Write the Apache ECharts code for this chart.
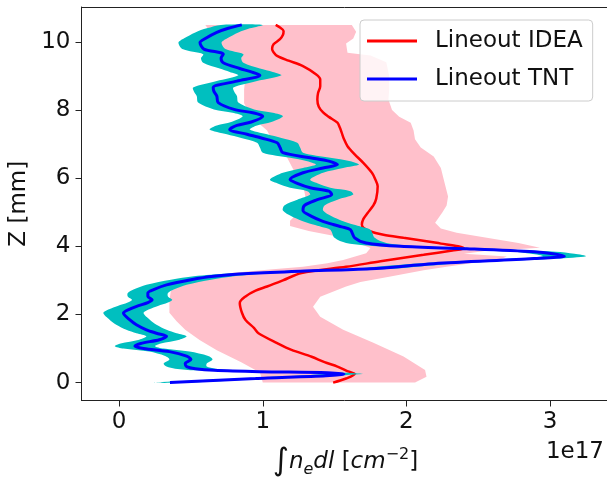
<!DOCTYPE html>
<html><head><meta charset="utf-8">
<script src="https://cdn.jsdelivr.net/npm/echarts@6/dist/echarts.min.js"></script>
<style>html,body{margin:0;padding:0;background:#fff}#c{width:607px;height:478px}</style>
</head><body><div id="c"></div>
<script>
// IDEA lineout (red) : z [mm] and integrated density [1e17 cm^-2]
const ideaZ = [0.00,0.12,0.25,0.32,0.47,0.60,0.76,0.96,1.16,1.45,1.60,1.84,2.05,2.34,2.53,2.70,2.82,3.00,3.22,3.40,3.56,3.75,3.88,3.94,4.00,4.08,4.15,4.25,4.34,4.45,4.55,4.64,4.80,4.98,5.20,5.40,5.76,6.00,6.16,6.45,6.70,6.94,7.15,7.33,7.50,7.63,7.80,7.93,8.10,8.31,8.50,8.70,8.90,9.05,9.29,9.45,9.59,9.70,9.79,9.93,10.08,10.20,10.32,10.42,10.50];
const ideaX = [1.49,1.58,1.64,1.60,1.52,1.43,1.34,1.20,1.10,0.97,0.94,0.88,0.855,0.84,0.88,0.95,1.03,1.14,1.27,1.58,1.82,2.12,2.32,2.40,2.36,2.24,2.14,1.98,1.84,1.74,1.70,1.69,1.70,1.73,1.77,1.79,1.80,1.78,1.76,1.70,1.64,1.59,1.565,1.55,1.535,1.52,1.46,1.42,1.39,1.38,1.385,1.40,1.40,1.37,1.28,1.18,1.10,1.075,1.065,1.075,1.12,1.14,1.145,1.12,1.09];

// IDEA uncertainty band (pink): left and right edges
const pinkLoZ = [0.00,0.30,0.60,0.95,1.25,1.55,1.80,2.05,2.40,2.70,2.85,3.02,3.12,3.22,3.32,3.40,3.50,3.60,3.80,3.95,4.10,4.30,4.45,4.60,4.75,5.00,5.40,5.80,6.20,6.60,7.00,7.40,7.80,8.20,8.60,9.00,9.40,9.80,10.20,10.50];
const pinkLo  = [1.00,0.98,0.85,0.68,0.56,0.46,0.40,0.35,0.35,0.36,0.42,0.56,0.66,0.78,1.05,1.28,1.45,1.56,1.72,1.75,1.66,1.50,1.32,1.19,1.19,1.25,1.30,1.28,1.22,1.17,1.08,1.03,0.92,0.87,0.87,0.88,0.82,0.72,0.65,0.60];
const pinkHiZ = [0.00,0.17,0.37,0.77,1.17,1.55,1.93,2.23,2.52,2.82,2.95,3.11,3.30,3.40,3.50,3.60,3.70,3.78,3.86,3.96,4.10,4.25,4.40,4.52,4.69,4.99,5.20,5.46,5.96,6.30,6.64,6.90,7.14,7.40,7.63,7.80,8.00,8.31,8.60,9.00,9.40,9.60,9.68,9.95,10.10,10.30,10.50];
const pinkHi  = [2.06,2.14,2.13,1.98,1.77,1.56,1.40,1.35,1.40,1.58,1.68,1.88,2.12,2.28,2.45,2.64,2.70,2.40,2.55,2.93,2.78,2.56,2.35,2.24,2.20,2.25,2.28,2.29,2.26,2.24,2.19,2.10,2.06,2.05,2.03,1.95,1.90,1.875,1.88,1.88,1.86,1.75,1.59,1.58,1.63,1.65,1.62];

// TNT lineout (blue) and its uncertainty half-width (cyan)
const tntZ = [0.00,0.12,0.25,0.29,0.32,0.36,0.41,0.47,0.56,0.68,
              0.78,0.91,1.00,1.07,1.15,1.26,1.36,1.45,1.55,1.70,
              1.84,2.04,2.15,2.25,2.35,2.43,2.53,2.63,2.73,2.87,
              3.02,3.12,3.20,3.27,3.34,3.49,3.64,3.71,3.78,3.84,
              3.93,4.00,4.10,4.25,4.49,4.57,4.64,4.75,4.88,5.05,
              5.20,5.37,5.52,5.62,5.72,5.85,5.96,6.16,6.30,6.40,
              6.50,6.60,6.75,6.90,7.04,7.18,7.29,7.43,7.55,7.65,
              7.82,7.92,8.02,8.22,8.41,8.55,8.66,8.85,9.02,9.12,
              9.22,9.39,9.52,9.64,9.79,9.98,10.10,10.28,10.40,10.50];
const tntX = [0.354,0.95,1.565,1.45,0.98,0.66,0.53,0.47,0.46,0.50,
              0.47,0.35,0.17,0.11,0.15,0.28,0.33,0.26,0.19,0.12,
              0.075,0.03,0.07,0.13,0.20,0.23,0.20,0.20,0.24,0.33,
              0.50,0.66,0.90,1.26,1.75,2.19,2.89,3.10,3.02,2.89,
              2.42,1.96,1.72,1.64,1.61,1.55,1.49,1.41,1.34,1.28,
              1.29,1.38,1.48,1.46,1.33,1.24,1.19,1.28,1.42,1.52,
              1.46,1.33,1.14,1.12,1.10,0.99,0.89,0.77,0.82,0.92,
              1.00,0.93,0.80,0.69,0.68,0.66,0.655,0.82,0.98,0.92,
              0.84,0.725,0.71,0.725,0.59,0.563,0.60,0.68,0.76,0.854];
const tntErr = [0.12,0.12,0.13,0.13,0.13,0.13,0.14,0.14,0.15,0.15,
                0.15,0.14,0.14,0.14,0.14,0.14,0.14,0.14,0.14,0.14,
                0.14,0.14,0.14,0.14,0.14,0.14,0.14,0.14,0.14,0.14,
                0.14,0.14,0.14,0.14,0.14,0.14,0.15,0.15,0.15,0.15,
                0.15,0.14,0.14,0.14,0.14,0.14,0.14,0.14,0.14,0.14,
                0.14,0.14,0.15,0.15,0.14,0.14,0.14,0.14,0.14,0.15,
                0.15,0.14,0.14,0.14,0.14,0.14,0.14,0.14,0.14,0.14,
                0.14,0.14,0.14,0.14,0.14,0.14,0.14,0.14,0.15,0.15,
                0.14,0.14,0.14,0.14,0.15,0.15,0.15,0.15,0.15,0.145];

const xTicks = [0, 1, 2, 3];
const yTicks = [0, 2, 4, 6, 8, 10];
const offsetLabel = '1e17';

const FONT = 'DejaVu Sans';
const X_MIN = -0.262, X_MAX = 3.414;

function bandSeries(name, loZ, lo, hiZ, hi, color, smooth, zl) {
  return {
    type: 'custom', name: name, silent: true, z: zl, clip: true,
    coordinateSystem: 'cartesian2d',
    data: [[1, 5]],
    renderItem: function (params, api) {
      const pts = [];
      for (let i = 0; i < loZ.length; i++) pts.push(api.coord([lo[i], loZ[i]]));
      for (let i = hiZ.length - 1; i >= 0; i--) pts.push(api.coord([hi[i], hiZ[i]]));
      return { type: 'polygon', shape: { points: pts, smooth: smooth }, style: { fill: color, stroke: null } };
    }
  };
}

const tntLo = tntX.map((v, i) => v - tntErr[i]);
const tntHi = tntX.map((v, i) => v + tntErr[i]);

const chart = echarts.init(document.getElementById('c'), null, { renderer: 'canvas' });
chart.setOption({
  animation: false,
  backgroundColor: '#fff',
  textStyle: { fontFamily: FONT },
  grid: { left: 81.5, top: 7, width: 528, height: 393.5, containLabel: false, outerBoundsMode: 'none', show: false },
  xAxis: [{
    type: 'value', min: X_MIN, max: X_MAX,
    splitLine: { show: false },
    axisLine: { show: true, onZero: false, lineStyle: { color: '#222', width: 1 } },
    axisTick: { show: true, length: 6, lineStyle: { color: '#222' }, customValues: xTicks },
    axisLabel: { color: '#111', fontSize: 23, fontFamily: FONT, margin: 10, customValues: xTicks },
    name: '{int|∫}{it|n}{sub|e}{it|dl}{n| [}{it|cm}{sup|−2}{n|]}',
    nameLocation: 'middle', nameGap: 46,
    nameTextStyle: {
      color: '#111', fontFamily: FONT,
      rich: {
        int: { fontSize: 31, fontFamily: FONT, color: '#111', verticalAlign: 'middle' },
        it: { fontSize: 23, fontStyle: 'italic', fontFamily: FONT, color: '#111', verticalAlign: 'middle' },
        n: { fontSize: 23, fontFamily: FONT, color: '#111', verticalAlign: 'middle' },
        sub: { fontSize: 16, fontStyle: 'italic', fontFamily: FONT, color: '#111', verticalAlign: 'bottom' },
        sup: { fontSize: 16, fontFamily: FONT, color: '#111', verticalAlign: 'top' }
      }
    }
  }, {
    type: 'value', position: 'top', min: X_MIN, max: X_MAX,
    splitLine: { show: false },
    axisLine: { show: true, onZero: false, lineStyle: { color: '#222', width: 1 } },
    axisTick: { show: false }, axisLabel: { show: false }
  }],
  yAxis: {
    type: 'value', min: -0.525, max: 11.025,
    splitLine: { show: false },
    axisLine: { show: true, onZero: false, lineStyle: { color: '#222', width: 1 } },
    axisTick: { show: true, length: 6, lineStyle: { color: '#222' }, customValues: yTicks },
    axisLabel: { color: '#111', fontSize: 23, fontFamily: FONT, margin: 11, customValues: yTicks },
    name: 'Z [mm]', nameLocation: 'middle', nameGap: 48,
    nameTextStyle: { color: '#111', fontSize: 23, fontFamily: FONT }
  },
  legend: {
    data: [{ name: 'Lineout IDEA', icon: 'rect' }, { name: 'Lineout TNT', icon: 'rect' }],
    orient: 'vertical', left: 360, top: 20,
    itemWidth: 50, itemHeight: 3, itemGap: 12,
    padding: [8, 10, 9, 7],
    backgroundColor: 'rgba(255,255,255,0.8)', borderColor: '#cccccc', borderWidth: 1, borderRadius: 4,
    textStyle: { fontSize: 23, fontFamily: FONT, color: '#111', padding: [0, 0, 0, 13], lineHeight: 26 }
  },
  graphic: [{
    type: 'text', right: 3, top: 441,
    style: { text: offsetLabel, font: '23px "DejaVu Sans"', fill: '#111' }
  }],
  series: [
    bandSeries('IDEA band', pinkLoZ, pinkLo, pinkHiZ, pinkHi, '#FFC0CB', 0, 1),
    {
      type: 'line', name: 'Lineout IDEA', z: 2, symbol: 'none', smooth: 0.3,
      color: '#ff0000', lineStyle: { color: '#ff0000', width: 2.5 },
      data: ideaZ.map((z, i) => [ideaX[i], z])
    },
    bandSeries('TNT band', tntZ, tntLo, tntZ, tntHi, '#00BFBF', 0.3, 3),
    {
      type: 'line', name: 'Lineout TNT', z: 4, symbol: 'none', smooth: 0.3,
      color: '#0000ff', lineStyle: { color: '#0000ff', width: 3 },
      data: tntZ.map((z, i) => [tntX[i], z])
    }
  ]
});
</script>
</body></html>
